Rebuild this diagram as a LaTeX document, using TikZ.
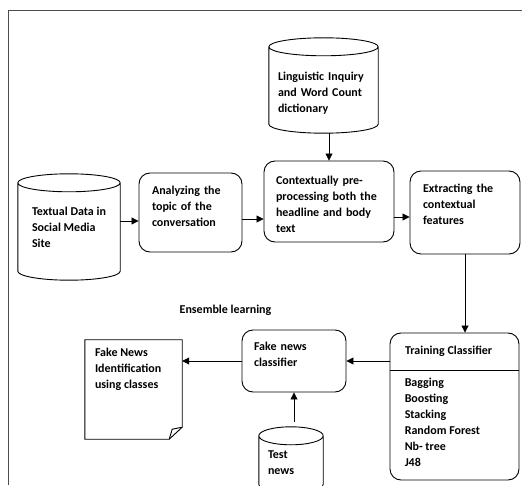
\documentclass[tikz,border=0pt]{standalone}
\usepackage{fontspec}
\setmainfont{Carlito}
\usetikzlibrary{arrows.meta,calc}

% outline of a data store drawn round an empty node
\newcommand{\dbdrum}[1]{%
  \draw[line width=0.9pt] let \p1=(#1.north west), \p2=(#1.south east), \n1={(\x2-\x1)/2} in
    (\x1,\y1-9) -- (\x1,\y2+9) arc[start angle=180, end angle=360, x radius=\n1, y radius=9pt] -- (\x2,\y1-9)
    (\x1+\n1,\y1-9) ellipse [x radius=\n1, y radius=9pt];}

\begin{document}
\begin{tikzpicture}[x=1pt,y=1pt,
    every node/.style={font=\fontsize{12}{16}\selectfont\bfseries},
    proc/.style={draw, line width=0.9pt, rounded corners=11pt, align=left},
    store/.style={align=left, inner sep=0pt},
    arr/.style={-{Triangle[length=7pt,width=7pt]}, line width=0.8pt}]
\useasboundingbox (0,0) rectangle (522,485);
\draw[black!70] (522,475) -- (8,475) -- (8,0);

% upper row
\node[store, minimum width=109pt, minimum height=95pt, text width=91pt, text depth=18pt] (liwc) at (323.5,399.5)
    {Linguistic Inquiry\\ and Word Count\\ dictionary};
\node[store, minimum width=102pt, minimum height=106pt] (data) at (69,258)
    {Textual Data in\\ Social Media\\ Site};
\node[proc, minimum width=103pt, minimum height=79pt, text width=77pt, text depth=45pt] (topic) at (190.5,272.5)
    {Analyzing the\\ topic of the\\ conversation};
\node[proc, minimum width=130pt, minimum height=81pt, text width=106pt, text depth=43pt] (pre) at (329,283.5)
    {Contextually pre-\\ processing both the\\ headline and body\\ text};
\node[proc, minimum width=110pt, minimum height=83pt, text width=84pt, text depth=48pt] (feat) at (465,272.5)
    {Extracting the\\ contextual\\ features};
\dbdrum{liwc}
\dbdrum{data}

% lower row
\node[proc, minimum width=129pt, minimum height=147pt] (train) at (454.5,78.5) {};
\node[anchor=west] (trtitle) at ([xshift=12pt,yshift=-19pt]train.north west) {Training Classifier};
\draw[line width=0.9pt] ([yshift=-38pt]train.north west) -- ([yshift=-38pt]train.north east);
\node[anchor=north west, inner sep=0pt, align=left] (trlist) at ([xshift=15pt,yshift=-45pt]train.north west)
    {Bagging\\ Boosting\\ Stacking\\ Random Forest\\ Nb- tree\\ J48};
\node (ens) at (225.5,175) {Ensemble learning};
\node[proc, minimum width=104pt, minimum height=62pt, text width=80pt, text depth=30pt] (clf) at (294,124)
    {Fake news\\ classifier};
\node[store, minimum width=64pt, minimum height=66pt, text width=46pt, text depth=10pt] (testset) at (291,25)
    {Test\\ news};
\dbdrum{testset}
\node[minimum width=97pt, minimum height=99pt, inner sep=0pt] (result) at (133.5,95.5) {};
\draw[line width=0.9pt] (result.north west) -- (result.north east) -- ([yshift=12pt]result.south east)
    -- ([xshift=-13pt]result.south east) -- (result.south west) -- cycle;
\draw[line width=0.9pt] ([yshift=12pt]result.south east) -- ([xshift=-10pt,yshift=10pt]result.south east)
    -- ([xshift=-13pt]result.south east);
\node[anchor=north west, inner sep=0pt, align=left] (restext) at ([xshift=10pt,yshift=-8pt]result.north west)
    {Fake News\\ Identification\\ using classes};

% connectors
\draw[arr] ([yshift=6pt]data.east) -- ([yshift=6pt]data.east -| topic.west);
\draw[arr] ([yshift=-6.5pt]topic.east) -- ([yshift=-6.5pt]topic.east -| pre.west);
\draw[arr] ([yshift=-15.5pt]pre.east) -- ([yshift=-15.5pt]pre.east -| feat.west);
\draw[arr] (liwc.south -| pre.north) -- (pre.north);
\draw[arr] (feat.south) -- (feat.south |- train.north);
\draw[arr] (train.west |- clf.east) -- (clf.east);
\draw[arr] (clf.west) -- (clf.west -| result.east);
\draw[arr] ([yshift=5pt]testset.north -| clf.south) -- (clf.south);
\end{tikzpicture}
\end{document}
